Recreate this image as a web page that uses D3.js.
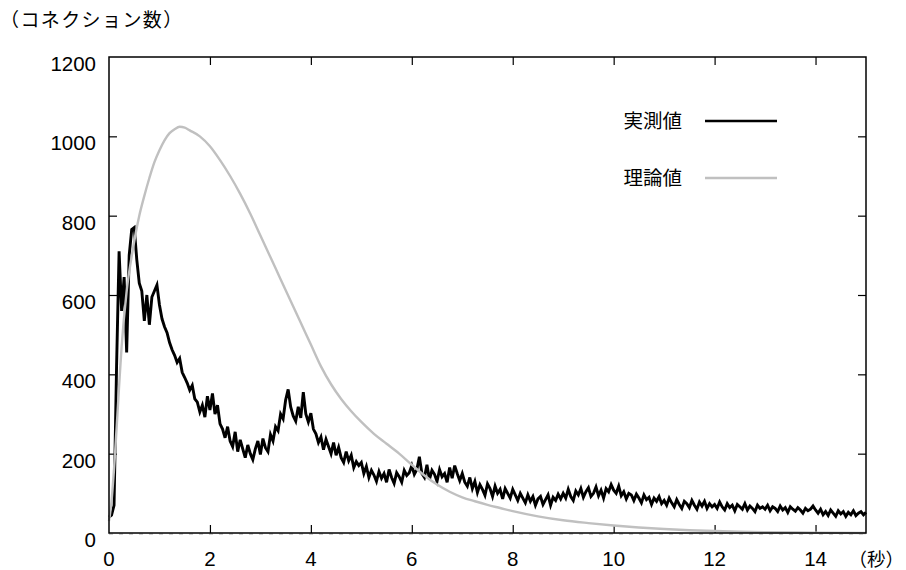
<!DOCTYPE html>
<html>
<head>
<meta charset="utf-8">
<script src="https://cdn.jsdelivr.net/npm/d3@7"></script>
<style>
    body { margin: 0; background: #fff; }
    text { font-family: "Liberation Sans", Arial, "Noto Sans CJK JP", sans-serif; fill: #000; }
</style>
</head>
<body>
<div id="canvas"></div>
<script>
"use strict";

/* -------------------- Data -------------------- */

let xTicks = [0, 2, 4, 6, 8, 10, 12, 14];
let yTicks = [0, 200, 400, 600, 800, 1000, 1200];

let yTitle = "（コネクション数）";
let xTitle = "（秒）";
let seriesNames = ["実測値", "理論値"];

/* measured counts, one sample every 0.05 s from t = 0 (one row per second) */
let measuredStep = 0.05;
let measured = [
    40, 45, 70, 420, 710, 560, 645, 455, 700, 765, 770, 690, 630, 610, 535, 600, 525, 595, 610, 625,
    575, 540, 520, 505, 480, 462, 448, 430, 440, 405, 392, 378, 360, 372, 338, 330, 305, 322, 292, 345,
    310, 352, 300, 322, 275, 262, 240, 268, 232, 218, 255, 205, 235, 212, 190, 222, 200, 185, 212, 232,
    198, 238, 215, 205, 248, 232, 268, 258, 300, 288, 335, 362, 318, 295, 282, 318, 290, 355, 300, 280,
    302, 262, 250, 228, 242, 210, 236, 218, 200, 228, 196, 216, 190, 178, 205, 182, 196, 165, 180, 170,
    178, 150, 168, 140, 158, 146, 130, 155, 138, 150, 128, 160, 140, 125, 152, 142, 128, 158, 145, 152,
    170, 148, 160, 192, 150, 140, 172, 135, 158, 148, 130, 160, 142, 150, 128, 165, 138, 170, 150, 132,
    150, 128, 118, 140, 112, 130, 102, 122, 110, 95, 124, 112, 92, 118, 100, 110, 86, 112, 100, 88,
    110, 96, 82, 100, 88, 76, 96, 80, 92, 70, 86, 92, 72, 84, 96, 70, 90, 82, 98, 86,
    100, 88, 110, 92, 82, 106, 96, 112, 90, 104, 114, 92, 100, 116, 94, 108, 88, 112, 104, 122,
    108, 100, 118, 94, 104, 86, 100, 96, 82, 98, 88, 76, 96, 84, 90, 72, 88, 80, 92, 74,
    82, 70, 88, 76, 66, 84, 72, 62, 80, 74, 64, 82, 70, 60, 78, 68, 80, 62, 74, 66,
    72, 62, 78, 66, 58, 74, 64, 70, 56, 72, 66, 60, 74, 58, 68, 62, 54, 70, 62, 66,
    60, 70, 56, 66, 62, 54, 68, 58, 64, 52, 66, 60, 55, 64, 58, 50, 62, 56, 60, 68,
    58, 50, 60, 46, 54, 44, 58, 50, 42, 56, 48, 54, 42, 52, 46, 56, 44, 50, 54, 46, 52
];

let theoryTime = [
    0, 0.05, 0.12, 0.2, 0.25, 0.35, 0.47, 0.6, 0.7, 0.8, 0.9, 1.0, 1.1, 1.2, 1.3, 1.4, 1.5,
    1.6, 1.8, 2.0, 2.2, 2.4, 2.6, 2.8, 3.0, 3.2, 3.4, 3.6, 3.8, 4.0, 4.2, 4.4, 4.6, 4.8,
    5.0, 5.25, 5.5, 5.75, 6.0, 6.25, 6.5, 6.75, 7.0, 7.25, 7.5, 7.75, 8.0, 8.5, 9.0, 9.5,
    10.0, 10.5, 11.0, 11.5, 12.0, 12.5, 13.0, 14.0, 15.0
];
let theoryValue = [
    30, 80, 200, 370, 470, 610, 713, 800, 850, 895, 935, 965, 990, 1008, 1018, 1024, 1022,
    1015, 1000, 975, 940, 900, 855, 805, 750, 695, 640, 585, 530, 475, 420, 375, 338, 307,
    280, 250, 225, 200, 172, 145, 122, 104, 90, 80, 71, 63, 55, 42, 32, 25,
    19, 14, 10, 7, 5, 3, 2, 1, 0
];

/* -------------------- Setup -------------------- */

let svgWidth = 906;
let svgHeight = 570;
let plotLeft = 109, plotRight = 866, plotTop = 57, plotBottom = 533;

let svg = d3.select("#canvas")
    .append("svg")
    .attr("width", svgWidth)
    .attr("height", svgHeight);

let xScale = d3.scaleLinear()
    .domain([0, 15])
    .range([plotLeft, plotRight]);

let yScale = d3.scaleLinear()
    .domain([0, 1200])
    .range([plotBottom, plotTop]);

/* -------------------- Zero axis + frame ticks -------------------- */

svg.append("line")
    .attr("x1", plotLeft).attr("x2", plotRight)
    .attr("y1", yScale(0) + 1).attr("y2", yScale(0) + 1)
    .attr("stroke", "#a0a0a0")
    .attr("stroke-width", 1)
    .attr("stroke-dasharray", "4,6");

let tickLen = 8;

/* axes with inward ticks on all four sides */
svg.append("g")
    .attr("transform", "translate(0," + plotBottom + ")")
    .call(d3.axisTop(xScale).tickValues(xTicks.slice(1)).tickSize(tickLen).tickFormat(""))
    .call(g => g.select(".domain").remove());

svg.append("g")
    .attr("transform", "translate(0," + plotTop + ")")
    .call(d3.axisBottom(xScale).tickValues(xTicks.slice(1)).tickSize(tickLen).tickFormat(""))
    .call(g => g.select(".domain").remove());

svg.append("g")
    .attr("transform", "translate(" + plotLeft + ",0)")
    .call(d3.axisRight(yScale).tickValues(yTicks.slice(1, -1)).tickSize(tickLen).tickFormat(""))
    .call(g => g.select(".domain").remove());

svg.append("g")
    .attr("transform", "translate(" + plotRight + ",0)")
    .call(d3.axisLeft(yScale).tickValues(yTicks.slice(1, -1)).tickSize(tickLen).tickFormat(""))
    .call(g => g.select(".domain").remove());

svg.selectAll(".tick line")
    .attr("stroke", "#000")
    .attr("stroke-width", 1.2);

/* tick labels */
svg.selectAll("text.xlab")
    .data(xTicks)
    .join("text")
    .attr("class", "xlab")
    .attr("x", d => xScale(d))
    .attr("y", 566)
    .attr("text-anchor", "middle")
    .style("font-size", "20.5px")
    .text(d => d);

svg.selectAll("text.ylab")
    .data(yTicks)
    .join("text")
    .attr("class", "ylab")
    .attr("x", 96)
    .attr("y", d => yScale(d) + 14)
    .attr("text-anchor", "end")
    .style("font-size", "20.5px")
    .text(d => d);

svg.append("text")
    .attr("x", 0)
    .attr("y", 27)
    .style("font-size", "19px")
    .style("letter-spacing", "1.4px")
    .text(yTitle);

svg.append("text")
    .attr("x", 904)
    .attr("y", 566)
    .attr("text-anchor", "end")
    .style("font-size", "18.5px")
    .text(xTitle);

/* -------------------- Lines -------------------- */

let line = d3.line()
    .x(d => xScale(d[0]))
    .y(d => yScale(d[1]));

let measuredPts = measured.map((v, i) => [i * measuredStep, v]);
let theoryPts = theoryTime.map((t, i) => [t, theoryValue[i]]);

svg.append("path")
    .datum(measuredPts)
    .attr("fill", "none")
    .attr("stroke", "#000")
    .attr("stroke-width", 2.9)
    .attr("stroke-linejoin", "miter")
    .attr("d", line);

svg.append("path")
    .datum(theoryPts)
    .attr("fill", "none")
    .attr("stroke", "#c0c0c0")
    .attr("stroke-width", 2.4)
    .attr("d", line.curve(d3.curveMonotoneX));

/* -------------------- Frame -------------------- */

svg.append("rect")
    .attr("x", plotLeft)
    .attr("y", plotTop)
    .attr("width", plotRight - plotLeft)
    .attr("height", plotBottom - plotTop)
    .attr("fill", "none")
    .attr("stroke", "#000")
    .attr("stroke-width", 1.5);

/* -------------------- Legend -------------------- */

let legendColors = ["#000", "#c0c0c0"];
let legendY = [121, 178];

seriesNames.forEach(function (name, i) {
    svg.append("text")
        .attr("x", 682)
        .attr("y", legendY[i] + 7)
        .attr("text-anchor", "end")
        .style("font-size", "19.5px")
        .text(name);

    svg.append("line")
        .attr("x1", 705).attr("x2", 777)
        .attr("y1", legendY[i]).attr("y2", legendY[i])
        .attr("stroke", legendColors[i])
        .attr("stroke-width", 2.4);
});
</script>
</body>
</html>
